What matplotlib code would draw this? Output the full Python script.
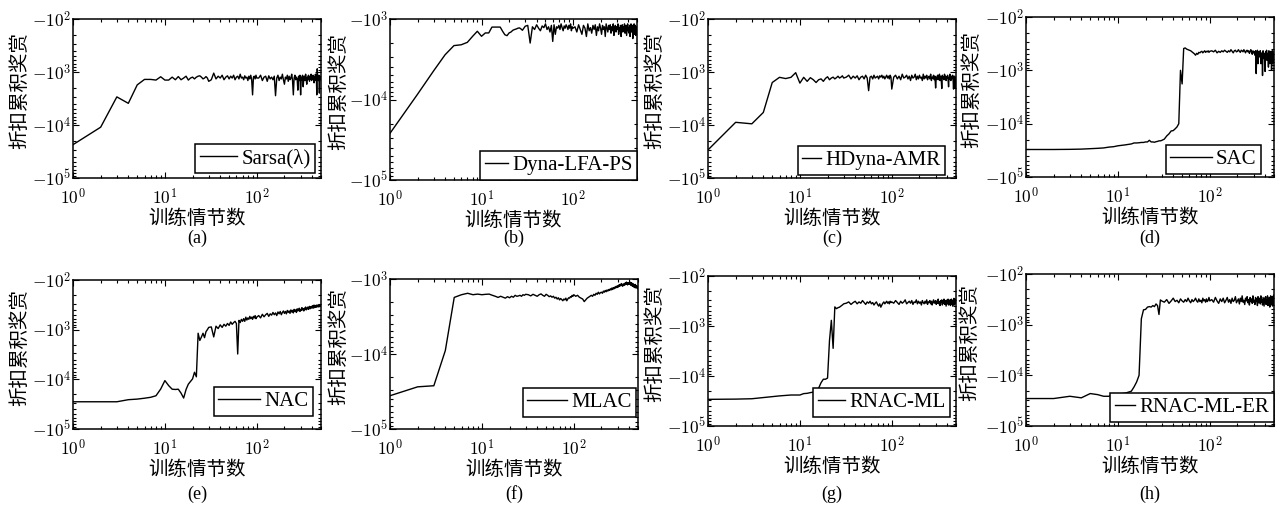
import numpy as np
import matplotlib
matplotlib.use("Agg")
import matplotlib.pyplot as plt
from matplotlib.ticker import FixedLocator, FuncFormatter, LogLocator, NullFormatter

plt.rcParams['mathtext.fontset'] = 'cm'
plt.rcParams['font.family'] = ['Liberation Serif', 'DejaVu Sans']
CJK = 'Noto Sans CJK SC'

# episode index: every episode up to 30, then every 2nd, then every 5th
episodes = np.array(list(range(1, 31)) + list(range(32, 101, 2)) + list(range(105, 501, 5)))

sarsa = [
    -23500, -11000, -2950, -3900, -1750, -1380, -1380, -1420, -1230, -1420,
    -1420, -1250, -1400, -1220, -1400, -1300, -1200, -1420, -1300, -1250,
    -1350, -1250, -1200, -1180, -1250, -1350, -1300, -1220, -1300, -1500,
    -1400, -1050, -1350, -1200, -1300, -1150, -1400, -1250, -1180, -1350,
    -1200, -1300, -1150, -1400, -1250, -1200, -1350, -1100, -1300, -1250,
    -1400, -1180, -1300, -1250, -1450, -1200, -1350, -1150, -1400, -2700,
    -1250, -1200, -1350, -1150, -1300,
    -1300, -1150, -1450, -1250, -1200, -1500, -1180, -1350, -1250, -1400,
    -1200, -2800, -1300, -1150, -1450, -1250, -1350, -1100, -1400, -1700,
    -1250, -1350, -1150, -1500, -1200, -1400, -1300, -1100, -1450, -2700,
    -1300, -1150, -1400, -1250, -1350, -2200, -1200, -1450, -1150, -2700,
    -1250, -1400, -1150, -1900, -1300, -1200, -1450, -1100, -1350, -1700,
    -1250, -1400, -1150, -1300, -1500, -1200, -1350, -1100, -1450, -1250,
    -1350, -1150, -1400, -1600, -1250, -1300, -1100, -1450, -1200, -2700,
    -870, -1350, -1200, -1450, -1150, -2500, -1300, -1200, -1400, -1300,
]

dyna_lfa_ps = [
    -26300, -8600, -4400, -2780, -2140, -2090, -1950, -1640, -1420, -1640,
    -1490, -1490, -1260, -1260, -1260, -1260, -1420, -1570, -1610, -1490,
    -1450, -1380, -1350, -1330, -1300, -1290, -1330, -1380, -1300, -1230,
    -1200, -1990, -1250, -1350, -1180, -1300, -1400, -1220, -1280, -1150,
    -1350, -1250, -1450, -1200, -1900, -1180, -1550, -1250, -1300, -1200,
    -1350, -1150, -1280, -1400, -1220, -1300, -1180, -1250, -1350, -1200,
    -1300, -1150, -1400, -1250, -1300,
    -1250, -1450, -1180, -1350, -1550, -1200, -1300, -1650, -1150, -1400,
    -1280, -1500, -1200, -1350, -1180, -1600, -1250, -1400, -1150, -1300,
    -1550, -1200, -1350, -1250, -1650, -1150, -1300, -1450, -1200, -1350,
    -1180, -1500, -1250, -1400, -1150, -1600, -1300, -1200, -1450, -1250,
    -1350, -1150, -1550, -1280, -1400, -1200, -1650, -1300, -1180, -1450,
    -1250, -1350, -1150, -1500, -1280, -1200, -1600, -1350, -1150, -1400,
    -1300, -1500, -1200, -1650, -1250, -1150, -1450, -1350, -1200, -1750,
    -1280, -1400, -1150, -1550, -1300, -1200, -1600, -1250, -1450, -1350,
]

hdyna_amr = [
    -29500, -8900, -9500, -5800, -1580, -1260, -1330, -1260, -1030, -1620,
    -1260, -1500, -1280, -1400, -1580, -1400, -1350, -1500, -1320, -1230,
    -1400, -1300, -1250, -1350, -1280, -1200, -1300, -1250, -1180, -1300,
    -1250, -1150, -1350, -1200, -1300, -1180, -1400, -1250, -1200, -1350,
    -1150, -1300, -2250, -1250, -1200, -1350, -1150, -1300, -1250, -1200,
    -1350, -1180, -1250, -1150, -1300, -1200, -1350, -1250, -1150, -1300,
    -1200, -1350, -1150, -1250, -2100,
    -1250, -1150, -1350, -1200, -1400, -1100, -1300, -1250, -1150, -1350,
    -1200, -1450, -1150, -1300, -1250, -1100, -1400, -1200, -1350, -1150,
    -1300, -1250, -1450, -1100, -1350, -1200, -1300, -1150, -1400, -1250,
    -1200, -1350, -1100, -1450, -1250, -1300, -1150, -1400, -1200, -2000,
    -1250, -1350, -1150, -1400, -1300, -1100, -1450, -1200, -1350, -2050,
    -1150, -1300, -1250, -1400, -1100, -1350, -1200, -1450, -1250, -1300,
    -1150, -1400, -1900, -1250, -1350, -1100, -1300, -1450, -1200, -1350,
    -1250, -1150, -1400, -2100, -1300, -1200, -1350, -1950, -1250, -1400,
]

sac = [
    -30500, -30500, -30300, -30000, -29500, -29000, -28500, -27500, -27000, -26000,
    -25500, -25000, -24500, -24000, -23000, -23000, -22800, -22500, -22500, -22000,
    -22000, -20500, -22000, -22000, -22300, -21800, -21500, -21000, -21000, -20600,
    -19500, -17000, -15500, -13700, -13500, -12500, -11500, -10000, -1000, -1800,
    -390, -380, -400, -410, -420, -430, -450, -470, -490, -520,
    -480, -500, -460, -470, -450, -440, -470, -450, -430, -460,
    -440, -450, -430, -460, -440,
    -430, -450, -420, -470, -440, -460, -430, -450, -420, -440,
    -460, -430, -450, -410, -440, -470, -430, -420, -450, -440,
    -410, -440, -460, -420, -430, -450, -410, -440, -470, -430,
    -420, -450, -430, -480, -440, -410, -460, -500, -430, -470,
    -450, -520, -430, -1150, -480, -420, -750, -500, -440, -560,
    -430, -750, -520, -470, -1250, -430, -600, -480, -520, -1050,
    -450, -550, -420, -650, -480, -560, -870, -430, -600, -750,
    -470, -520, -440, -1000, -560, -430, -750, -500, -620, -450,
]

nac = [
    -28300, -28300, -28300, -25700, -25000, -24000, -23000, -21400, -15700, -10600,
    -13400, -15800, -16000, -15800, -19000, -23800, -16000, -12500, -11000, -9800,
    -7200, -8900, -1180, -1650, -1400, -1180, -1450, -1100, -1000, -900,
    -880, -1400, -850, -950, -800, -900, -780, -850, -750, -820,
    -700, -780, -720, -680, -750, -3090, -650, -720, -620, -680,
    -600, -680, -560, -640, -580, -620, -540, -600, -560, -620,
    -540, -580, -520, -600, -560,
    -520, -580, -490, -550, -500, -470, -540, -480, -510, -450,
    -500, -460, -520, -440, -480, -430, -500, -450, -420, -470,
    -430, -480, -410, -450, -420, -470, -400, -440, -410, -460,
    -390, -430, -400, -450, -380, -420, -400, -370, -430, -390,
    -410, -360, -400, -380, -420, -370, -390, -350, -400, -370,
    -380, -350, -390, -360, -340, -380, -350, -370, -340, -360,
    -330, -370, -345, -320, -360, -340, -330, -355, -320, -345,
    -335, -320, -350, -330, -315, -345, -325, -340, -320, -335,
]

mlac = [
    -36000, -27400, -26500, -9000, -1760, -1620, -1550, -1620, -1590, -1620,
    -1600, -1590, -1650, -1700, -1760, -1700, -1750, -1800, -1720, -1780,
    -1700, -1750, -1650, -1700, -1680, -1650, -1700, -1620, -1650, -1600,
    -1620, -1680, -1600, -1650, -1700, -1620, -1580, -1650, -1700, -1600,
    -1650, -1720, -1680, -1750, -1700, -1800, -1750, -1850, -1780, -1900,
    -1820, -1880, -1950, -1850, -1900, -1800, -1950, -1850, -1780, -1800,
    -1720, -1750, -1650, -1700, -1620,
    -1700, -1650, -1750, -1800, -1850, -2000, -1900, -1800, -1750, -1700,
    -1650, -1700, -1600, -1650, -1550, -1600, -1500, -1580, -1520, -1500,
    -1550, -1450, -1500, -1420, -1480, -1400, -1450, -1380, -1420, -1350,
    -1400, -1320, -1380, -1300, -1350, -1280, -1320, -1250, -1300, -1230,
    -1280, -1200, -1250, -1180, -1230, -1150, -1200, -1250, -1170, -1220,
    -1150, -1200, -1120, -1180, -1100, -1150, -1200, -1120, -1170, -1130,
    -1180, -1100, -1150, -1220, -1120, -1180, -1250, -1150, -1200, -1280,
    -1200, -1300, -1180, -1250, -1320, -1220, -1300, -1250, -1350, -1280,
]

rnac_ml = [
    -29300, -29000, -28500, -27000, -25900, -25000, -24500, -24000, -24000, -24000,
    -22500, -22200, -21500, -21000, -19000, -17500, -13600, -11600, -11600, -11000,
    -1950, -770, -2800, -415, -450, -430, -420, -400, -380, -360,
    -350, -330, -370, -340, -320, -360, -330, -350, -310, -340,
    -370, -330, -350, -320, -360, -340, -380, -350, -330, -370,
    -400, -360, -420, -380, -350, -330, -360, -340, -320, -350,
    -330, -360, -320, -340, -330,
    -350, -310, -340, -370, -320, -350, -330, -300, -360, -340,
    -320, -350, -310, -370, -330, -340, -300, -360, -320, -350,
    -330, -380, -310, -340, -360, -320, -350, -300, -370, -330,
    -340, -310, -360, -320, -380, -330, -300, -350, -340, -310,
    -370, -320, -350, -290, -360, -330, -390, -310, -340, -300,
    -380, -320, -350, -290, -370, -330, -310, -400, -340, -300,
    -360, -290, -380, -320, -350, -300, -390, -330, -290, -370,
    -310, -400, -300, -350, -280, -380, -320, -290, -360, -330,
]

rnac_ml_er = [
    -28700, -28700, -25900, -27800, -22900, -24000, -25900, -25900, -22900, -24000,
    -23000, -22500, -21500, -20600, -16900, -13500, -10000, -765, -510, -500,
    -450, -440, -450, -420, -440, -390, -420, -630, -325, -340,
    -360, -320, -380, -340, -300, -350, -330, -370, -310, -340,
    -360, -320, -350, -300, -340, -370, -320, -350, -330, -300,
    -340, -360, -310, -350, -330, -370, -300, -340, -320, -360,
    -310, -350, -330, -290, -340,
    -320, -360, -290, -340, -380, -310, -350, -300, -370, -330,
    -290, -360, -320, -380, -300, -350, -330, -280, -370, -340,
    -310, -390, -300, -350, -270, -360, -330, -400, -300, -340,
    -280, -370, -320, -410, -290, -350, -310, -380, -270, -360,
    -330, -400, -290, -350, -310, -420, -280, -370, -330, -300,
    -390, -270, -360, -320, -410, -290, -350, -430, -300, -340,
    -280, -400, -320, -370, -270, -420, -310, -360, -290, -450,
    -330, -270, -400, -310, -380, -280, -430, -320, -260, -390,
]

series = [sarsa, dyna_lfa_ps, hdyna_amr, sac, nac, mlac, rnac_ml, rnac_ml_er]
names = ['Sarsa(λ)', 'Dyna-LFA-PS', 'HDyna-AMR', 'SAC', 'NAC', 'MLAC', 'RNAC-ML', 'RNAC-ML-ER']
tags = ['(a)', '(b)', '(c)', '(d)', '(e)', '(f)', '(g)', '(h)']
y_top_exp = [2, 3, 2, 2, 2, 3, 2, 2]

# axes boxes in pixels: left, top, right, bottom
W, H = 1282, 514
boxes = [(73, 19, 321, 178), (390, 19, 637, 180), (708, 19, 956, 178), (1026, 17, 1274, 177),
         (73, 280, 321, 429), (390, 279, 638, 429), (708, 276, 956, 426), (1026, 274, 1274, 426)]
# y-label centre x (px)
ylab_x = [20, 339, 655, 972, 20, 339, 655, 970]
# legend gap to the lower-right corner (px) and handle length
leg_gap = [(6, 5), (0, 0), (11, 3), (13, 3), (8, 13), (2, 12), (6, 9), (0, 4)]
leg_handle = [1.8, 1.1, 0.9, 2.0, 2.0, 1.9, 1.3, 1.0]
tag_y = [238, 494]

fig = plt.figure(figsize=(W / 100, H / 100), dpi=100)

for i, vals in enumerate(series):
    assert len(vals) == len(episodes)
    l, t, r, b = boxes[i]
    ax = fig.add_axes([l / W, 1 - b / H, (r - l) / W, (b - t) / H])
    line, = ax.plot(episodes, -np.array(vals, dtype=float), color='black', lw=1.0)
    ax.set_xscale('log')
    ax.set_yscale('log')
    ax.set_xlim(1, 500)
    ax.set_ylim(1e5, 10.0 ** y_top_exp[i])

    ax.xaxis.set_major_locator(FixedLocator([1, 10, 100]))
    ax.xaxis.set_major_formatter(FuncFormatter(lambda v, p: r'$10^{%d}$' % round(np.log10(v))))
    ax.xaxis.set_minor_locator(LogLocator(base=10, subs=np.arange(2, 10), numticks=20))
    ax.xaxis.set_minor_formatter(NullFormatter())
    ax.yaxis.set_major_locator(FixedLocator([10.0 ** k for k in range(y_top_exp[i], 6)]))
    ax.yaxis.set_major_formatter(FuncFormatter(lambda v, p: r'$-10^{%d}$' % round(np.log10(v))))
    ax.yaxis.set_minor_locator(LogLocator(base=10, subs=np.arange(2, 10), numticks=20))
    ax.yaxis.set_minor_formatter(NullFormatter())

    ax.tick_params(which='both', direction='in', top=True, right=True, labelsize=12.5, width=0.8)
    ax.tick_params(which='major', length=4)
    ax.tick_params(axis='x', which='major', pad=7)
    ax.tick_params(axis='y', which='major', pad=1.5)
    ax.tick_params(which='minor', length=2)
    for sp in ax.spines.values():
        sp.set_linewidth(1.1)

    ax.set_ylabel('折扣累积奖赏', fontfamily=CJK, fontsize=14, va='center')
    ax.yaxis.set_label_coords((ylab_x[i] - l) / (r - l), 0.55)
    ax.set_xlabel('训练情节数', fontfamily=CJK, fontsize=14, labelpad=0)

    dx, dy = leg_gap[i]
    leg = ax.legend([line], [names[i]], loc='lower right',
                    bbox_to_anchor=(1 - dx / (r - l), dy / (b - t)),
                    prop={'family': 'Liberation Serif', 'size': 15},
                    frameon=True, fancybox=False, framealpha=1, edgecolor='black',
                    borderpad=0.22, handletextpad=0.2, handlelength=leg_handle[i],
                    borderaxespad=0)
    leg.get_frame().set_linewidth(1.1)

    fig.text((l + r) / 2 / W, 1 - tag_y[i // 4] / H, tags[i], ha='center', va='center',
             fontsize=13, fontfamily='Liberation Serif')

fig.savefig('out.png', dpi=100)
